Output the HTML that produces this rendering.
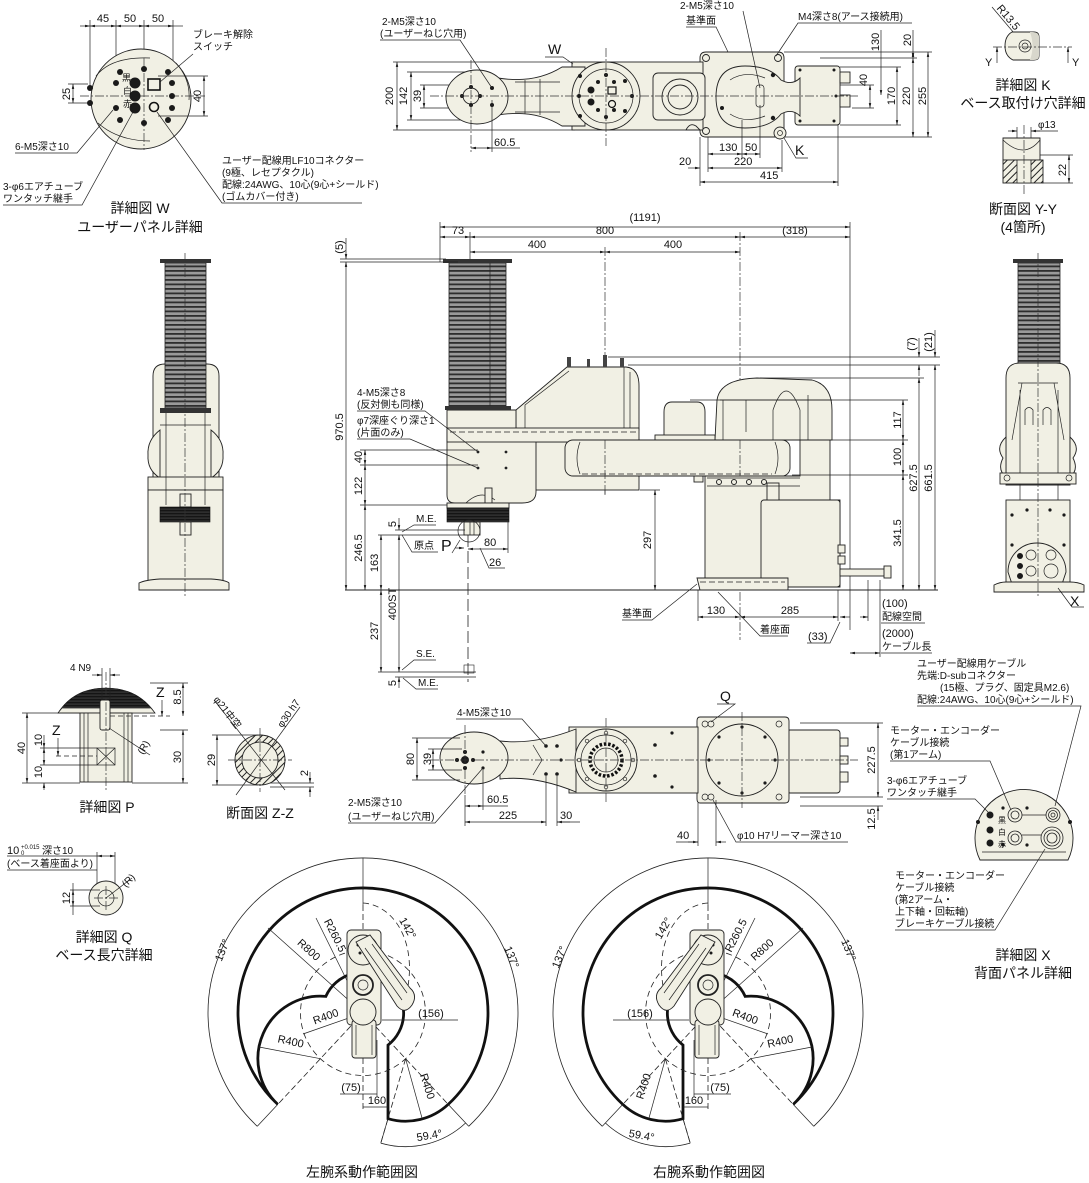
<!DOCTYPE html>
<html><head><meta charset="utf-8">
<style>
html,body{margin:0;padding:0;background:#fff;}
svg{display:block;}
text{font-family:"Liberation Sans","Noto Sans CJK JP",sans-serif;fill:#111;stroke:none;}
.s{font-size:10px}
.n{font-size:11px}
.c{font-size:14px}
.ln{fill:none;stroke:#222;stroke-width:0.7}
.d{fill:none;stroke:#222;stroke-width:0.7;marker-start:url(#a);marker-end:url(#a)}
.de{fill:none;stroke:#222;stroke-width:0.7;marker-end:url(#a)}
.cl{fill:none;stroke:#333;stroke-width:0.7;stroke-dasharray:9 2 2 2}
.ds{fill:none;stroke:#222;stroke-width:0.8;stroke-dasharray:6 3}
.b{fill:#f1f0e4;stroke:#222;stroke-width:0.9}
.k{fill:#1a1a1a;stroke:#111;stroke-width:0.6}
</style></head><body>
<svg width="1089" height="1183" viewBox="0 0 1089 1183" xmlns="http://www.w3.org/2000/svg">
<defs>
<marker id="a" viewBox="0 0 10 10" refX="10" refY="5" markerWidth="7" markerHeight="7" orient="auto-start-reverse"><path d="M0,2.5 L10,5 L0,7.5 z" fill="#111"/></marker>
<pattern id="bel" width="6" height="4.5" patternUnits="userSpaceOnUse"><rect width="6" height="4.5" fill="#9a9a9a"/><rect y="0" width="6" height="1.8" fill="#2e2e2e"/></pattern>
<pattern id="blk" width="6" height="3" patternUnits="userSpaceOnUse"><rect width="6" height="3" fill="#151515"/><rect y="1.8" width="6" height="0.5" fill="#666"/></pattern>
<pattern id="hat" width="5" height="5" patternUnits="userSpaceOnUse" patternTransform="rotate(45)"><rect width="5" height="5" fill="#f1f0e4"/><rect width="1" height="5" fill="#222"/></pattern>
</defs>

<!-- ============ DETAIL W ============ -->
<g>
<line class="ln" x1="90" y1="20" x2="90" y2="88"/>
<line class="ln" x1="116" y1="20" x2="116" y2="83"/>
<line class="ln" x1="144" y1="20" x2="144" y2="60"/>
<line class="ln" x1="173" y1="20" x2="173" y2="82"/>
<line class="d" x1="80" y1="26" x2="90" y2="26" style="marker-start:none"/>
<line class="d" x1="90" y1="26" x2="116" y2="26"/>
<line class="d" x1="116" y1="26" x2="144" y2="26"/>
<line class="d" x1="144" y1="26" x2="173" y2="26"/>
<line class="ln" x1="173" y1="26" x2="183" y2="26"/>
<text class="n" x="103" y="22" text-anchor="middle">45</text>
<text class="n" x="130" y="22" text-anchor="middle">50</text>
<text class="n" x="158" y="22" text-anchor="middle">50</text>
<circle class="b" cx="141" cy="99" r="50"/>
<path class="ln" d="M96,76 C106,63 124,57 150,58 M98,123 C110,134 128,141 150,141 M176,63 C186,74 190,86 189,100"/>
<line class="cl" x1="80" y1="96" x2="205" y2="96"/>
<line class="cl" x1="144" y1="58" x2="144" y2="150"/>
<g fill="#1a1a1a">
<circle cx="90" cy="88" r="3"/><circle cx="90" cy="103" r="3"/>
<circle cx="116" cy="83" r="3"/><circle cx="116" cy="108" r="3"/>
<circle cx="120" cy="72" r="3"/><circle cx="120" cy="120" r="3"/>
<circle cx="144" cy="69" r="3"/><circle cx="144" cy="123" r="3"/>
<circle cx="168" cy="72" r="3"/><circle cx="172" cy="83" r="3"/>
<circle cx="172" cy="96" r="3"/><circle cx="172" cy="108" r="3"/>
<circle cx="168" cy="120" r="3"/>
<circle cx="135" cy="83" r="5.5"/><circle cx="135" cy="96" r="5.5"/><circle cx="135" cy="108" r="5.5"/>
</g>
<rect x="148" y="79" width="12" height="11" fill="none" stroke="#111" stroke-width="1.6"/>
<circle cx="154" cy="107" r="4.5" fill="none" stroke="#111" stroke-width="1.6"/>
<text x="122" y="81" style="font-size:9px">黒</text>
<text x="123" y="94" style="font-size:9px">白</text>
<text x="123" y="107" style="font-size:9px">赤</text>
<line class="ln" x1="68" y1="84" x2="88" y2="84"/><line class="ln" x1="68" y1="103" x2="88" y2="103"/>
<line class="d" x1="73" y1="84" x2="73" y2="103"/>
<text class="n" transform="translate(66,94) rotate(-90)" x="0" y="4" text-anchor="middle">25</text>
<line class="ln" x1="158" y1="76" x2="208" y2="76"/><line class="ln" x1="158" y1="116" x2="208" y2="116"/>
<line class="d" x1="204" y1="76" x2="204" y2="116"/>
<text class="n" transform="translate(197,96) rotate(-90)" x="0" y="4" text-anchor="middle">40</text>
<text class="s" x="193" y="38">ブレーキ解除</text>
<text class="s" x="193" y="50">スイッチ</text>
<line class="ln" x1="193" y1="54" x2="160" y2="82"/>
<text class="s" x="15" y="150">6-M5深さ10</text>
<polyline class="ln" points="15,153 77,153 113,110"/>
<text class="s" x="3" y="190">3-φ6エアチューブ</text>
<text class="s" x="3" y="202">ワンタッチ継手</text>
<polyline class="ln" points="3,205 82,205 133,112"/>
<text class="s" x="222" y="164">ユーザー配線用LF10コネクター</text>
<text class="s" x="222" y="176">(9極、レセプタクル)</text>
<text class="s" x="222" y="188">配線:24AWG、10心(9心+シールド)</text>
<text class="s" x="222" y="200">(ゴムカバー付き)</text>
<polyline class="ln" points="362,203 222,203 157,112"/>
<text class="c" x="140" y="213" text-anchor="middle">詳細図 W</text>
<text class="c" x="140" y="232" text-anchor="middle">ユーザーパネル詳細</text>
</g>

<!-- ============ TOP VIEW ============ -->
<g>
<line class="ln" x1="393" y1="62" x2="575" y2="62"/>
<line class="ln" x1="393" y1="130" x2="575" y2="130"/>
<line class="ln" x1="407" y1="72" x2="470" y2="72"/>
<line class="ln" x1="407" y1="120" x2="470" y2="120"/>
<line class="ln" x1="420" y1="85" x2="470" y2="85"/>
<line class="ln" x1="420" y1="108" x2="470" y2="108"/>
<line class="d" x1="397" y1="62" x2="397" y2="130"/>
<line class="d" x1="411" y1="72" x2="411" y2="120"/>
<line class="d" x1="424" y1="85" x2="424" y2="108"/>
<text class="n" transform="translate(389,96) rotate(-90)" x="0" y="4" text-anchor="middle">200</text>
<text class="n" transform="translate(403,96) rotate(-90)" x="0" y="4" text-anchor="middle">142</text>
<text class="n" transform="translate(417,96) rotate(-90)" x="0" y="4" text-anchor="middle">39</text>
<path class="b" d="M700,58 Q700,52 706,52 H778 Q784,52 784,58 V131 Q784,137 778,137 H706 Q700,137 700,131 Z"/>
<rect class="b" x="572" y="62" width="131" height="68"/>
<path class="b" d="M686,130 Q690,122 696,126 L700,130 Z"/>
<rect class="b" x="653" y="73" width="52" height="47" rx="5"/>
<circle class="b" cx="680" cy="97" r="18"/><circle class="b" cx="680" cy="97" r="12"/>
<path class="b" d="M498,78 Q535,84 562,67 L585,67 L585,126 L562,126 Q535,109 498,115 Z"/>
<path class="ln" d="M515,82 H560 M515,112 H560 M525,80 V114 M540,79 V115"/>
<ellipse class="b" cx="477" cy="97" rx="31" ry="27"/>
<circle class="b" cx="471" cy="96" r="8"/>
<g fill="#1a1a1a"><circle cx="471" cy="87" r="2"/><circle cx="471" cy="105" r="2"/><circle cx="462" cy="96" r="2"/><circle cx="480" cy="96" r="2"/><circle cx="492" cy="88" r="2"/><circle cx="492" cy="105" r="2"/></g>
<circle class="b" cx="606" cy="96" r="34"/>
<circle class="ln" cx="606" cy="96" r="27"/>
<g fill="#1a1a1a"><circle cx="591" cy="90" r="3.5"/><circle cx="591" cy="102" r="3.5"/><circle cx="579" cy="96" r="2"/><circle cx="606" cy="75" r="2"/><circle cx="606" cy="117" r="2"/><circle cx="625" cy="81" r="2"/><circle cx="625" cy="111" r="2"/><circle cx="598" cy="82" r="2"/><circle cx="614" cy="82" r="2"/><circle cx="598" cy="110" r="2"/><circle cx="614" cy="110" r="2"/><circle cx="632" cy="96" r="2"/><circle cx="580" cy="76" r="2"/><circle cx="580" cy="116" r="2"/></g>
<rect x="608" y="87" width="8" height="7" fill="none" stroke="#111" stroke-width="1.2"/>
<circle cx="612" cy="104" r="3.5" fill="none" stroke="#111" stroke-width="1.2"/>
<rect class="b" x="795" y="66" width="45" height="59" rx="3"/>
<path class="b" d="M745,66 Q770,66 781,80 Q792,86 800,78 L800,116 Q792,108 781,114 Q770,128 745,128 Q716,128 716,97 Q716,66 745,66 Z"/>
<path class="ln" d="M730,80 Q745,70 765,78 M730,114 Q745,124 765,116"/>
<rect x="756" y="85" width="8" height="22" rx="3" class="ln"/>
<g fill="#1a1a1a"><circle cx="773" cy="75" r="2.2"/><circle cx="773" cy="118" r="2.2"/><circle cx="722" cy="108" r="2"/><circle cx="800" cy="70" r="1.5"/><circle cx="834" cy="70" r="1.5"/><circle cx="800" cy="121" r="1.5"/><circle cx="834" cy="121" r="1.5"/><circle cx="836" cy="96" r="1.5"/></g>
<rect x="840" y="72" width="10" height="11" class="b"/><rect x="840" y="95" width="10" height="12" class="b"/>
<circle class="b" cx="706" cy="58" r="3.5"/><circle class="b" cx="778" cy="58" r="3.5"/>
<circle class="b" cx="706" cy="131" r="3.5"/><circle class="b" cx="780" cy="133" r="6"/>
<circle class="ln" cx="780" cy="133" r="2.5"/>
<line class="cl" x1="430" y1="96" x2="858" y2="96"/>
<line class="cl" x1="606" y1="48" x2="606" y2="146"/>
<line class="cl" x1="471" y1="60" x2="471" y2="152"/>
<text class="s" x="382" y="25">2-M5深さ10</text>
<text class="s" x="380" y="37">(ユーザーねじ穴用)</text>
<polyline class="ln" points="380,40 460,40 492,88"/>
<text x="548" y="54" style="font-size:14px">W</text>
<polyline class="ln" points="545,57 563,57 573,64"/>
<line class="ln" x1="492" y1="100" x2="492" y2="152"/>
<line class="d" x1="471" y1="148" x2="492" y2="148"/>
<line class="ln" x1="492" y1="148" x2="520" y2="148"/>
<text class="n" x="494" y="146">60.5</text>
<text class="s" x="680" y="9">2-M5深さ10</text>
<text class="s" x="686" y="24">基準面</text>
<polyline class="ln" points="686,27 716,27 728,52"/>
<polyline class="ln" points="743,11 760,88"/>
<text class="s" x="798" y="20">M4深さ8(アース接続用)</text>
<polyline class="ln" points="912,23 798,23 776,56"/>
<line class="ln" x1="784" y1="52" x2="932" y2="52"/>
<line class="ln" x1="820" y1="58" x2="917" y2="58"/>
<line class="ln" x1="840" y1="67" x2="901" y2="67"/>
<line class="ln" x1="852" y1="108" x2="874" y2="108"/>
<line class="ln" x1="840" y1="85" x2="874" y2="85"/>
<line class="ln" x1="840" y1="125" x2="901" y2="125"/>
<line class="ln" x1="784" y1="137" x2="932" y2="137"/>
<line class="d" x1="881" y1="52" x2="881" y2="95" style="marker-start:none"/>
<line class="ln" x1="881" y1="30" x2="881" y2="52"/>
<line class="ln" x1="913" y1="30" x2="913" y2="52"/>
<line class="d" x1="913" y1="52" x2="913" y2="58"/>
<line class="d" x1="870" y1="85" x2="870" y2="108"/>
<line class="d" x1="897" y1="67" x2="897" y2="125"/>
<line class="d" x1="913" y1="58" x2="913" y2="137"/>
<line class="d" x1="928" y1="52" x2="928" y2="137"/>
<text class="n" transform="translate(875,42) rotate(-90)" x="0" y="4" text-anchor="middle">130</text>
<text class="n" transform="translate(907,40) rotate(-90)" x="0" y="4" text-anchor="middle">20</text>
<text class="n" transform="translate(863,80) rotate(-90)" x="0" y="4" text-anchor="middle">40</text>
<text class="n" transform="translate(891,96) rotate(-90)" x="0" y="4" text-anchor="middle">170</text>
<text class="n" transform="translate(906,96) rotate(-90)" x="0" y="4" text-anchor="middle">220</text>
<text class="n" transform="translate(922,96) rotate(-90)" x="0" y="4" text-anchor="middle">255</text>
<line class="ln" x1="700" y1="137" x2="700" y2="186"/>
<line class="ln" x1="708" y1="137" x2="708" y2="172"/>
<line class="ln" x1="742" y1="120" x2="742" y2="158"/>
<line class="ln" x1="760" y1="105" x2="760" y2="158"/>
<line class="ln" x1="782" y1="140" x2="782" y2="172"/>
<line class="ln" x1="838" y1="125" x2="838" y2="186"/>
<line class="d" x1="708" y1="154" x2="742" y2="154"/>
<line class="d" x1="742" y1="154" x2="760" y2="154"/>
<line class="d" x1="708" y1="168" x2="782" y2="168"/>
<line class="de" x1="688" y1="168" x2="700" y2="168"/>
<line class="d" x1="700" y1="182" x2="838" y2="182"/>
<text class="n" x="719" y="151">130</text>
<text class="n" x="745" y="151">50</text>
<text class="n" x="734" y="165">220</text>
<text class="n" x="679" y="165">20</text>
<text class="n" x="760" y="179">415</text>
<text x="795" y="155" style="font-size:14px">K</text>
<polyline class="ln" points="784,138 796,158 808,158"/>
</g>

<!-- ============ DETAIL K / SECTION Y-Y ============ -->
<g>
<line class="ln" x1="992" y1="7" x2="1025" y2="46"/>
<text class="n" transform="translate(1004,21) rotate(50)" x="0" y="-2" text-anchor="middle">R13.5</text>
<path class="b" d="M1012,32 H1034 Q1039,32 1039,37 V56 Q1039,60 1034,60 H1013 Q1005,56 1005,46 Q1005,36 1012,32 Z"/>
<path d="M1032,32 Q1039,32 1039,37 V56 Q1039,60 1034,60 H1030 Q1035,46 1030,32 Z" fill="#d8d7cc" stroke="none"/>
<circle class="ln" cx="1025" cy="46" r="6"/><circle class="ln" cx="1025" cy="46" r="3"/>
<line class="cl" x1="993" y1="47" x2="1072" y2="47"/>
<line class="de" x1="997" y1="63" x2="997" y2="47"/>
<line class="de" x1="1068" y1="63" x2="1068" y2="47"/>
<text class="n" x="985" y="66">Y</text><text class="n" x="1072" y="66">Y</text>
<text class="c" x="1023" y="90" text-anchor="middle">詳細図 K</text>
<text class="c" x="1023" y="108" text-anchor="middle">ベース取付け穴詳細</text>
<text class="s" x="1038" y="128">φ13</text>
<line class="ln" x1="1017" y1="127" x2="1017" y2="145"/><line class="ln" x1="1031" y1="127" x2="1031" y2="145"/>
<line class="de" x1="1008" y1="131" x2="1017" y2="131"/>
<line class="de" x1="1040" y1="131" x2="1031" y2="131"/>
<line class="ln" x1="1031" y1="131" x2="1058" y2="131"/>
<path class="b" d="M1003,138 H1040 V160 H1003 Z"/>
<path class="ln" d="M1003,140 Q1024,160 1040,140"/>
<rect x="1003" y="160" width="40" height="23" fill="url(#hat)" stroke="#222" stroke-width="0.9"/>
<rect x="1017" y="160" width="14" height="23" fill="#f1f0e4" stroke="#222" stroke-width="0.8"/>
<line class="cl" x1="1024" y1="125" x2="1024" y2="196"/>
<line class="ln" x1="1040" y1="155" x2="1073" y2="155"/><line class="ln" x1="1043" y1="183" x2="1073" y2="183"/>
<line class="d" x1="1069" y1="155" x2="1069" y2="183"/>
<text class="n" transform="translate(1062,170) rotate(-90)" x="0" y="4" text-anchor="middle">22</text>
<text class="c" x="1023" y="214" text-anchor="middle">断面図 Y-Y</text>
<text class="c" x="1023" y="232" text-anchor="middle">(4箇所)</text>
</g>

<!-- ============ LEFT SIDE (FRONT) VIEW ============ -->
<g>
<path class="b" d="M153,485 V376 Q153,364 165,364 H207 Q219,364 219,376 V485 Z"/>
<rect x="165" y="263" width="41" height="145" fill="url(#bel)" stroke="#222" stroke-width="0.8"/>
<rect x="160" y="259" width="51" height="4" fill="#333"/>
<rect x="160" y="408" width="51" height="5" fill="#333"/>
<path class="b" d="M160,430 Q147,440 148,455 Q147,470 160,478 Z M211,430 Q224,440 223,455 Q224,470 211,478 Z"/>
<rect class="b" x="148" y="477" width="75" height="13"/>
<rect class="b" x="148" y="490" width="75" height="92"/>
<path class="ln" d="M166,413 V505 M205,413 V505 M160,425 H211"/>
<rect x="180" y="494" width="11" height="13" class="b"/>
<rect x="160" y="507" width="50" height="15" fill="url(#blk)" stroke="#111" stroke-width="0.6"/>
<rect x="180" y="522" width="11" height="13" class="b"/>
<path class="b" d="M139,590 V583 Q145,580 160,579 H211 Q226,580 229,583 V590 Z"/>
<line class="cl" x1="185" y1="253" x2="185" y2="598"/>
</g>

<!-- ============ RIGHT SIDE (REAR) VIEW ============ -->
<g>
<path class="b" d="M1006,485 V378 Q1006,363 1020,363 H1056 Q1070,363 1070,378 V485 Z"/>
<path class="ln" d="M1018,383 H1058 M1012,440 L1022,383 M1064,440 L1054,383 M1020,390 V500 M1058,390 V500"/>
<rect x="1018" y="263" width="42" height="100" fill="url(#bel)" stroke="#222" stroke-width="0.8"/>
<rect x="1013" y="259" width="50" height="4" fill="#333"/>
<path class="ln" d="M1025,425 V410 Q1029,405 1033,410 V425 M1043,425 V410 Q1047,405 1051,410 V425"/>
<path class="b" d="M1006,437 Q995,447 1003,458 Q997,470 1006,477 Z M1070,437 Q1081,447 1073,458 Q1079,470 1070,477 Z"/>
<rect class="b" x="1000" y="473" width="76" height="11"/>
<circle class="ln" cx="1007" cy="478" r="3"/><circle class="ln" cx="1069" cy="478" r="3"/>
<rect class="b" x="1006" y="500" width="64" height="83"/>
<path class="b" d="M1008,572 A29,29 0 1,1 1066,572 L1060,590 H1014 Z"/>
<g fill="#1a1a1a"><circle cx="1020" cy="556" r="3"/><circle cx="1020" cy="566" r="3"/><circle cx="1020" cy="576" r="3"/><circle cx="1012" cy="515" r="1.6"/><circle cx="1064" cy="515" r="1.6"/><circle cx="1027" cy="510" r="1.6"/><circle cx="1050" cy="510" r="1.6"/><circle cx="1012" cy="545" r="1.6"/><circle cx="1064" cy="545" r="1.6"/></g>
<circle class="ln" cx="1031" cy="555" r="5"/><circle class="ln" cx="1051" cy="555" r="5"/><circle class="ln" cx="1031" cy="571" r="5"/><circle class="ln" cx="1051" cy="571" r="7"/>
<path class="b" d="M994,592 V585 Q1000,582 1006,582 H1070 Q1078,582 1084,585 V592 Z"/>
<line class="cl" x1="1038" y1="253" x2="1038" y2="598"/>
<polyline class="ln" points="1058,588 1072,607 1084,607"/>
<text x="1070" y="606" style="font-size:14px">X</text>
</g>

<!-- ============ MAIN SIDE VIEW ============ -->
<g>
<line class="ln" x1="440" y1="222" x2="440" y2="262"/>
<line class="ln" x1="850" y1="222" x2="850" y2="630"/>
<line class="ln" x1="470" y1="232" x2="470" y2="262"/>
<line class="cl" x1="470" y1="262" x2="470" y2="535"/>
<line class="cl" x1="605" y1="247" x2="605" y2="495"/>
<line class="cl" x1="740" y1="232" x2="740" y2="640"/>
<line class="d" x1="440" y1="227" x2="850" y2="227"/>
<line class="d" x1="440" y1="237" x2="470" y2="237"/>
<line class="d" x1="470" y1="237" x2="740" y2="237"/>
<line class="d" x1="740" y1="237" x2="850" y2="237"/>
<line class="d" x1="470" y1="252" x2="605" y2="252"/>
<line class="d" x1="605" y1="252" x2="740" y2="252"/>
<text class="n" x="645" y="221" text-anchor="middle">(1191)</text>
<text class="n" x="458" y="234" text-anchor="middle">73</text>
<text class="n" x="605" y="234" text-anchor="middle">800</text>
<text class="n" x="795" y="234" text-anchor="middle">(318)</text>
<text class="n" x="537" y="248" text-anchor="middle">400</text>
<text class="n" x="673" y="248" text-anchor="middle">400</text>
<rect class="b" x="535" y="442" width="104" height="48"/>
<path class="b" d="M516,430 V410 L567,367 H626 Q639,368 639,386 V430 Z"/>
<path class="ln" d="M525,430 V405 L569,371 M624,367 V430 M630,372 V430"/>
<g fill="#444"><rect x="567" y="357" width="4" height="10"/><rect x="587" y="359" width="3" height="8"/><rect x="603" y="355" width="4" height="12"/><rect x="620" y="358" width="4" height="9"/></g>
<path class="b" d="M447,410 H516 V430 H536 V492 Q536,503 522,503 H455 Q447,503 447,495 Z"/>
<path class="ln" d="M464,505 Q480,488 495,500"/>
<rect x="485" y="488" width="7" height="15" class="b"/>
<rect class="b" x="447" y="428" width="192" height="14"/>
<line class="ds" x1="450" y1="432" x2="636" y2="432"/>
<rect x="449" y="263" width="57" height="147" fill="url(#bel)" stroke="#222" stroke-width="0.8"/>
<rect x="443" y="259" width="69" height="4" fill="#333"/>
<line class="ln" x1="490" y1="263" x2="490" y2="410"/>
<rect x="445" y="406" width="66" height="4" fill="#333"/>
<rect x="447" y="503" width="62" height="5" class="b"/>
<rect x="447" y="508" width="62" height="14" fill="url(#blk)" stroke="#111" stroke-width="0.6"/>
<rect x="464" y="522" width="16" height="13" class="b"/>
<line class="ln" x1="470" y1="522" x2="470" y2="535"/><line class="ln" x1="474" y1="522" x2="474" y2="535"/>
<circle class="ln" cx="469" cy="531" r="11"/>
<path class="b" d="M705,476 H800 V440 H830 V500 H840 V587 H705 Z"/>
<path class="b" d="M715,440 L717,400 Q720,379 757,378 L812,380 Q832,385 832,410 V440 Z"/>
<path class="ln" d="M773,440 V410 Q786,372 800,410 V440 M723,440 V400 M746,400 V432 M808,395 V440 M720,400 H832"/>
<rect class="b" x="761" y="500" width="79" height="87" rx="3"/>
<rect class="b" x="767" y="483" width="12" height="17"/>
<path class="ln" d="M707,478 H800 M707,486 H800"/>
<g fill="none" stroke="#222" stroke-width="1"><circle cx="719" cy="482" r="2.5"/><circle cx="734" cy="482" r="2.5"/><circle cx="749" cy="482" r="2.5"/><circle cx="764" cy="482" r="2.5"/></g>
<rect class="b" x="694" y="474" width="9" height="8"/>
<g class="b"><rect x="838" y="545" width="7" height="8"/><rect x="838" y="556" width="7" height="8"/></g>
<rect class="b" x="840" y="569" width="48" height="7"/><rect class="b" x="884" y="566" width="7" height="12"/>
<path class="b" d="M697,578 H788 V590 H700 Z"/>
<line class="ds" x1="700" y1="582" x2="785" y2="582"/>
<path class="b" d="M664,440 V412 Q664,402 672,402 H697 Q705,402 705,412 V440 Z"/>
<rect class="b" x="655" y="435" width="60" height="5"/>
<rect class="b" x="565" y="440" width="225" height="36" rx="8"/>
<path class="ln" d="M580,442 Q574,458 580,474 M775,442 Q781,458 775,474"/>
<line class="ds" x1="582" y1="474" x2="772" y2="474"/>
<line class="cl" x1="605" y1="440" x2="605" y2="495"/>
<line class="cl" x1="740" y1="440" x2="740" y2="476"/>
<line x1="345" y1="590" x2="938" y2="590" stroke="#222" stroke-width="0.9"/>
<line class="ln" x1="340" y1="262" x2="458" y2="262"/>
<line class="ln" x1="340" y1="259" x2="446" y2="259"/>
<line class="d" x1="346" y1="262" x2="346" y2="590"/>
<line class="de" x1="346" y1="238" x2="346" y2="259"/>
<text class="n" transform="translate(339,247) rotate(-90)" x="0" y="4" text-anchor="middle">(5)</text>
<text class="n" transform="translate(339,427) rotate(-90)" x="0" y="4" text-anchor="middle">970.5</text>
<line class="ln" x1="360" y1="450" x2="478" y2="450"/>
<line class="ln" x1="360" y1="465" x2="478" y2="465"/>
<line class="ln" x1="360" y1="505" x2="447" y2="505"/>
<line class="d" x1="365" y1="450" x2="365" y2="465"/>
<line class="d" x1="365" y1="465" x2="365" y2="505"/>
<line class="d" x1="365" y1="505" x2="365" y2="590"/>
<text class="n" transform="translate(358,457) rotate(-90)" x="0" y="4" text-anchor="middle">40</text>
<text class="n" transform="translate(358,486) rotate(-90)" x="0" y="4" text-anchor="middle">122</text>
<text class="n" transform="translate(358,548) rotate(-90)" x="0" y="4" text-anchor="middle">246.5</text>
<line class="ln" x1="378" y1="535" x2="465" y2="535"/>
<line class="ln" x1="378" y1="672" x2="476" y2="672"/>
<line class="d" x1="381" y1="535" x2="381" y2="590"/>
<line class="d" x1="381" y1="590" x2="381" y2="672"/>
<line class="d" x1="399" y1="535" x2="399" y2="672"/>
<line class="de" x1="399" y1="518" x2="399" y2="530"/>
<line class="de" x1="399" y1="688" x2="399" y2="677"/>
<line class="ln" x1="395" y1="677" x2="476" y2="677"/>
<line class="ln" x1="395" y1="530" x2="465" y2="530"/>
<text class="n" transform="translate(374,563) rotate(-90)" x="0" y="4" text-anchor="middle">163</text>
<text class="n" transform="translate(374,631) rotate(-90)" x="0" y="4" text-anchor="middle">237</text>
<text class="n" transform="translate(392,604) rotate(-90)" x="0" y="4" text-anchor="middle">400ST</text>
<text class="n" transform="translate(392,524) rotate(-90)" x="0" y="4" text-anchor="middle">5</text>
<text class="n" transform="translate(392,683) rotate(-90)" x="0" y="4" text-anchor="middle">5</text>
<line x1="468" y1="535" x2="468" y2="682" stroke="#222" stroke-width="0.8" stroke-dasharray="12 4"/>
<rect x="464" y="665" width="10" height="8" fill="none" stroke="#222" stroke-width="0.6"/>
<text class="s" x="416" y="522">M.E.</text>
<polyline class="ln" points="436,525 414,525 402,532"/>
<text class="s" x="414" y="549">原点</text>
<polyline class="ln" points="402,535 412,552 438,552"/>
<text x="441" y="551" style="font-size:16px">P</text>
<polyline class="ln" points="452,553 460,540"/>
<line class="ln" x1="508" y1="522" x2="508" y2="553"/>
<line class="d" x1="468" y1="549" x2="508" y2="549"/>
<text class="n" x="484" y="546">80</text>
<line class="de" x1="455" y1="548" x2="464" y2="548"/>
<polyline class="ln" points="480,548 489,568 505,568"/>
<text class="n" x="489" y="566">26</text>
<text class="s" x="416" y="657">S.E.</text>
<polyline class="ln" points="436,660 414,660 402,670"/>
<text class="s" x="418" y="686">M.E.</text>
<polyline class="ln" points="438,689 416,689 403,678"/>
<text class="s" x="357" y="396">4-M5深さ8</text>
<text class="s" x="357" y="408">(反対側も同様)</text>
<polyline class="ln" points="357,411 425,411 478,452"/>
<text class="s" x="357" y="424">φ7深座ぐり深さ1</text>
<text class="s" x="357" y="436">(片面のみ)</text>
<polyline class="ln" points="357,439 410,439 478,468"/>
<g fill="#222"><circle cx="478" cy="452" r="1.4"/><circle cx="478" cy="468" r="1.4"/><circle cx="506" cy="452" r="1.4"/><circle cx="506" cy="468" r="1.4"/></g>
<line class="ln" x1="640" y1="490" x2="660" y2="490"/>
<line class="d" x1="655" y1="490" x2="655" y2="590"/>
<text class="n" transform="translate(647,540) rotate(-90)" x="0" y="4" text-anchor="middle">297</text>
<line class="ln" x1="608" y1="357" x2="940" y2="357"/>
<line class="ln" x1="628" y1="365" x2="940" y2="365"/>
<line class="ln" x1="760" y1="378" x2="924" y2="378"/>
<line class="ln" x1="690" y1="400" x2="908" y2="400"/>
<line class="ln" x1="792" y1="440" x2="908" y2="440"/>
<line class="ln" x1="792" y1="475" x2="908" y2="475"/>
<line class="d" x1="903" y1="400" x2="903" y2="440"/>
<line class="d" x1="903" y1="440" x2="903" y2="475"/>
<line class="d" x1="903" y1="475" x2="903" y2="590"/>
<line class="d" x1="919" y1="378" x2="919" y2="590"/>
<line class="d" x1="935" y1="365" x2="935" y2="590"/>
<line class="de" x1="919" y1="338" x2="919" y2="357"/>
<line class="de" x1="919" y1="376" x2="919" y2="365"/>
<line class="de" x1="935" y1="330" x2="935" y2="357"/>
<text class="n" transform="translate(911,344) rotate(-90)" x="0" y="4" text-anchor="middle">(7)</text>
<text class="n" transform="translate(928,342) rotate(-90)" x="0" y="4" text-anchor="middle">(21)</text>
<text class="n" transform="translate(897,420) rotate(-90)" x="0" y="4" text-anchor="middle">117</text>
<text class="n" transform="translate(897,457) rotate(-90)" x="0" y="4" text-anchor="middle">100</text>
<text class="n" transform="translate(913,478) rotate(-90)" x="0" y="4" text-anchor="middle">627.5</text>
<text class="n" transform="translate(928,478) rotate(-90)" x="0" y="4" text-anchor="middle">661.5</text>
<text class="n" transform="translate(897,533) rotate(-90)" x="0" y="4" text-anchor="middle">341.5</text>
<line class="ln" x1="698" y1="590" x2="698" y2="621"/>
<line class="ln" x1="838" y1="590" x2="838" y2="621"/>
<line class="ln" x1="868" y1="580" x2="868" y2="621"/>
<line class="ln" x1="880" y1="580" x2="880" y2="657"/>
<line class="d" x1="698" y1="617" x2="740" y2="617"/>
<line class="d" x1="740" y1="617" x2="838" y2="617"/>
<line class="de" x1="850" y1="617" x2="840" y2="617"/>
<line class="de" x1="860" y1="617" x2="868" y2="617"/>
<line class="d" x1="850" y1="653" x2="880" y2="653"/>
<text class="n" x="716" y="614" text-anchor="middle">130</text>
<text class="n" x="790" y="614" text-anchor="middle">285</text>
<text class="s" x="622" y="617">基準面</text>
<polyline class="ln" points="622,620 652,620 697,584"/>
<text class="s" x="760" y="633">着座面</text>
<polyline class="ln" points="788,636 760,636 718,592 M740,622 760,636 M760,636 776,592"/>
<text class="n" x="808" y="640">(33)</text>
<polyline class="ln" points="807,643 830,643 840,622"/>
<text class="n" x="882" y="607">(100)</text>
<text class="s" x="882" y="620">配線空間</text>
<line class="ln" x1="881" y1="623" x2="925" y2="623"/>
<text class="n" x="882" y="637">(2000)</text>
<text class="s" x="882" y="650">ケーブル長</text>
<line class="ln" x1="881" y1="653" x2="932" y2="653"/>
</g>

<!-- ============ DETAIL P ============ -->
<g>
<path d="M58,713 C70,694 88,688 106,688 C124,688 142,694 155,713 Z" fill="url(#blk)" stroke="#111" stroke-width="0.6"/>
<path d="M62,708 H151 L155,713 H58 Z" fill="#f1f0e4" stroke="#222" stroke-width="0.7"/>
<rect class="b" x="80" y="713" width="52" height="69"/>
<path class="ln" d="M84,713 V782 M88,713 V782 M124,713 V782 M128,713 V782"/>
<rect class="b" x="100" y="700" width="10" height="30" rx="2"/>
<rect class="ln" x="97" y="748" width="18" height="17"/>
<path class="ln" d="M97,748 L115,765 M115,748 L97,765"/>
<line class="cl" x1="106" y1="672" x2="106" y2="790"/>
<line class="ln" x1="102" y1="668" x2="102" y2="700"/><line class="ln" x1="110" y1="668" x2="110" y2="700"/>
<line class="de" x1="92" y1="675" x2="102" y2="675"/><line class="de" x1="120" y1="675" x2="110" y2="675"/>
<text class="s" x="70" y="671">4 N9</text>
<line x1="110" y1="716" x2="170" y2="716" stroke="#222" stroke-width="0.8" stroke-dasharray="5 3"/>
<line class="de" x1="162" y1="700" x2="162" y2="716"/>
<text class="c" x="156" y="697">Z</text>
<line x1="56" y1="756" x2="97" y2="756" stroke="#222" stroke-width="0.8" stroke-dasharray="5 3"/>
<line class="de" x1="58" y1="738" x2="58" y2="756"/>
<text class="c" x="52" y="735">Z</text>
<line class="ln" x1="150" y1="683" x2="188" y2="683"/>
<line class="ln" x1="160" y1="730" x2="188" y2="730"/>
<line class="ln" x1="132" y1="783" x2="188" y2="783"/>
<line class="d" x1="183" y1="683" x2="183" y2="716"/>
<line class="d" x1="183" y1="730" x2="183" y2="783"/>
<text class="n" transform="translate(177,697) rotate(-90)" x="0" y="4" text-anchor="middle">8.5</text>
<text class="n" transform="translate(177,757) rotate(-90)" x="0" y="4" text-anchor="middle">30</text>
<line class="ln" x1="22" y1="713" x2="80" y2="713"/>
<line class="ln" x1="22" y1="783" x2="80" y2="783"/>
<line class="ln" x1="40" y1="748" x2="97" y2="748"/>
<line class="ln" x1="40" y1="765" x2="97" y2="765"/>
<line class="d" x1="27" y1="713" x2="27" y2="783"/>
<line class="de" x1="44" y1="735" x2="44" y2="748"/>
<line class="d" x1="44" y1="748" x2="44" y2="765"/>
<line class="de" x1="44" y1="790" x2="44" y2="783"/>
<text class="n" transform="translate(21,748) rotate(-90)" x="0" y="4" text-anchor="middle">40</text>
<text class="n" transform="translate(38,740) rotate(-90)" x="0" y="4" text-anchor="middle">10</text>
<text class="n" transform="translate(38,772) rotate(-90)" x="0" y="4" text-anchor="middle">10</text>
<line class="ln" x1="109" y1="728" x2="150" y2="755"/>
<text class="s" transform="translate(143,747) rotate(-60)" x="0" y="4" text-anchor="middle">(R)</text>
<text class="c" x="107" y="812" text-anchor="middle">詳細図 P</text>
</g>

<!-- ============ SECTION Z-Z ============ -->
<g>
<circle cx="260" cy="760" r="25" fill="url(#hat)" stroke="#222" stroke-width="0.9"/>
<circle class="b" cx="260" cy="760" r="18"/>
<line class="cl" x1="228" y1="760" x2="292" y2="760"/>
<line class="cl" x1="260" y1="728" x2="260" y2="792"/>
<line class="ln" x1="214" y1="700" x2="285" y2="790"/>
<line class="ln" x1="300" y1="707" x2="236" y2="795"/>
<text class="s" transform="translate(228,712) rotate(52)" x="0" y="4" text-anchor="middle">φ21中空</text>
<text class="s" transform="translate(288,713) rotate(-55)" x="0" y="4" text-anchor="middle">φ30 h7</text>
<line class="ln" x1="212" y1="735" x2="258" y2="735"/>
<line class="ln" x1="212" y1="785" x2="258" y2="785"/>
<line class="d" x1="217" y1="735" x2="217" y2="785"/>
<text class="n" transform="translate(211,760) rotate(-90)" x="0" y="4" text-anchor="middle">29</text>
<line class="ln" x1="270" y1="783" x2="314" y2="783"/>
<line class="ln" x1="270" y1="787" x2="314" y2="787"/>
<line class="de" x1="310" y1="772" x2="310" y2="783"/>
<line class="de" x1="310" y1="797" x2="310" y2="787"/>
<text class="n" transform="translate(304,773) rotate(-90)" x="0" y="4" text-anchor="middle">2</text>
<text class="c" x="260" y="818" text-anchor="middle">断面図 Z-Z</text>
</g>

<!-- ============ DETAIL Q ============ -->
<g>
<text class="n" x="7" y="854">10</text>
<text x="21" y="849" style="font-size:6px">+0.015</text>
<text x="21" y="855" style="font-size:6px">0</text>
<text class="s" x="42" y="854">深さ10</text>
<text class="s" x="7" y="867">(ベース着座面より)</text>
<line class="ln" x1="7" y1="856" x2="97" y2="856"/>
<line class="ln" x1="7" y1="870" x2="97" y2="870"/>
<line class="ln" x1="97" y1="852" x2="97" y2="895"/>
<line class="ln" x1="115" y1="852" x2="115" y2="895"/>
<line class="d" x1="97" y1="856" x2="115" y2="856"/>
<circle class="b" cx="106" cy="898" r="17"/>
<circle class="ln" cx="106" cy="898" r="8"/>
<line class="cl" x1="94" y1="898" x2="118" y2="898"/>
<line class="cl" x1="106" y1="886" x2="106" y2="910"/>
<line class="ln" x1="70" y1="890" x2="100" y2="890"/>
<line class="ln" x1="70" y1="906" x2="100" y2="906"/>
<line class="d" x1="73" y1="890" x2="73" y2="906"/>
<line class="ln" x1="73" y1="883" x2="73" y2="915"/>
<text class="n" transform="translate(66,898) rotate(-90)" x="0" y="4" text-anchor="middle">12</text>
<line class="ln" x1="106" y1="898" x2="132" y2="878"/>
<text class="s" transform="translate(128,880) rotate(-45)" x="0" y="4" text-anchor="middle">(R)</text>
<text class="c" x="104" y="942" text-anchor="middle">詳細図 Q</text>
<text class="c" x="104" y="960" text-anchor="middle">ベース長穴詳細</text>
</g>

<!-- ============ BOTTOM TOP VIEW ============ -->
<g>
<rect class="b" x="787" y="730" width="53" height="63" rx="3"/>
<g class="b"><rect x="840" y="738" width="8" height="8"/><rect x="840" y="756" width="8" height="8"/><rect x="840" y="772" width="8" height="10"/></g>
<path class="b" d="M700,717 H785 Q789,717 789,721 V799 Q789,803 785,803 H700 Q697,803 697,799 V721 Q697,717 700,717 Z"/>
<circle class="b" cx="742" cy="760" r="36"/>
<g fill="#1a1a1a"><circle cx="742" cy="727" r="1.6"/><circle cx="742" cy="793" r="1.6"/><circle cx="709" cy="760" r="1.6"/><circle cx="775" cy="760" r="1.6"/><circle cx="719" cy="737" r="1.6"/><circle cx="765" cy="737" r="1.6"/><circle cx="719" cy="783" r="1.6"/><circle cx="765" cy="783" r="1.6"/></g>
<circle class="ln" cx="705" cy="724" r="3"/><circle class="ln" cx="711" cy="724" r="3"/><circle class="ln" cx="779" cy="724" r="3"/><circle class="ln" cx="705" cy="797" r="3"/><circle class="ln" cx="711" cy="797" r="3"/><circle class="ln" cx="779" cy="797" r="3"/>
<rect class="b" x="569" y="727" width="129" height="66"/>
<g fill="#1a1a1a"><circle cx="655" cy="745" r="1.8"/><circle cx="655" cy="776" r="1.8"/><circle cx="672" cy="733" r="1.6"/><circle cx="672" cy="787" r="1.6"/></g>
<path class="b" d="M500,741 Q535,745 576,729 V792 Q535,775 500,779 Z"/>
<path class="ln" d="M533,745 L542,760 L533,775"/>
<g fill="#1a1a1a"><circle cx="546" cy="746" r="1.8"/><circle cx="546" cy="774" r="1.8"/><circle cx="557" cy="746" r="1.8"/><circle cx="557" cy="774" r="1.8"/><circle cx="561" cy="760" r="1.6"/></g>
<ellipse class="b" cx="474" cy="758" rx="34" ry="26"/>
<circle cx="465" cy="760" r="4" fill="#1a1a1a"/>
<g fill="#1a1a1a"><circle cx="465" cy="752" r="2"/><circle cx="465" cy="768" r="2"/><circle cx="457" cy="760" r="2"/><circle cx="473" cy="760" r="2"/><circle cx="483" cy="752" r="1.6"/><circle cx="483" cy="768" r="1.6"/></g>
<circle class="b" cx="606" cy="760" r="31"/>
<circle class="ln" cx="606" cy="760" r="25"/>
<circle cx="606" cy="760" r="16" fill="none" stroke="#111" stroke-width="3.5" stroke-dasharray="2.5 1.8"/>
<circle class="ln" cx="606" cy="760" r="12"/>
<g fill="none" stroke="#222" stroke-width="0.7"><circle cx="606" cy="733" r="1.8"/><circle cx="606" cy="787" r="1.8"/><circle cx="579" cy="760" r="1.8"/><circle cx="633" cy="760" r="1.8"/><circle cx="587" cy="741" r="1.8"/><circle cx="625" cy="741" r="1.8"/><circle cx="587" cy="779" r="1.8"/><circle cx="625" cy="779" r="1.8"/></g>
<line class="cl" x1="430" y1="760" x2="858" y2="760"/>
<line class="cl" x1="465" y1="725" x2="465" y2="795"/>
<line class="cl" x1="606" y1="718" x2="606" y2="802"/>
<line class="cl" x1="742" y1="712" x2="742" y2="808"/>
<line class="ln" x1="412" y1="738" x2="460" y2="738"/>
<line class="ln" x1="412" y1="780" x2="460" y2="780"/>
<line class="ln" x1="428" y1="749" x2="462" y2="749"/>
<line class="ln" x1="428" y1="770" x2="462" y2="770"/>
<line class="d" x1="417" y1="738" x2="417" y2="780"/>
<line class="d" x1="433" y1="749" x2="433" y2="770"/>
<text class="n" transform="translate(410,759) rotate(-90)" x="0" y="4" text-anchor="middle">80</text>
<text class="n" transform="translate(427,759) rotate(-90)" x="0" y="4" text-anchor="middle">39</text>
<line class="ln" x1="465" y1="795" x2="465" y2="826"/>
<line class="ln" x1="483" y1="770" x2="483" y2="810"/>
<line class="ln" x1="546" y1="776" x2="546" y2="826"/>
<line class="ln" x1="557" y1="776" x2="557" y2="826"/>
<line class="d" x1="465" y1="806" x2="483" y2="806"/>
<line class="ln" x1="483" y1="806" x2="508" y2="806"/>
<text class="n" x="487" y="803">60.5</text>
<line class="d" x1="465" y1="822" x2="546" y2="822"/>
<text class="n" x="508" y="819" text-anchor="middle">225</text>
<line class="de" x1="570" y1="822" x2="557" y2="822"/>
<line class="ln" x1="557" y1="822" x2="580" y2="822"/>
<text class="n" x="560" y="819">30</text>
<text class="s" x="457" y="716">4-M5深さ10</text>
<polyline class="ln" points="456,719 522,719 546,746"/>
<text class="s" x="348" y="806">2-M5深さ10</text>
<text class="s" x="348" y="820">(ユーザーねじ穴用)</text>
<polyline class="ln" points="348,823 435,823 483,768"/>
<text x="720" y="701" style="font-size:14px">Q</text>
<polyline class="ln" points="717,704 735,704 711,722"/>
<line class="ln" x1="800" y1="723" x2="883" y2="723"/>
<line class="ln" x1="800" y1="797" x2="883" y2="797"/>
<line class="ln" x1="800" y1="806" x2="883" y2="806"/>
<line class="d" x1="878" y1="723" x2="878" y2="797"/>
<line class="de" x1="878" y1="820" x2="878" y2="806"/>
<text class="n" transform="translate(871,760) rotate(-90)" x="0" y="4" text-anchor="middle">227.5</text>
<text class="n" transform="translate(871,819) rotate(-90)" x="0" y="4" text-anchor="middle">12.5</text>
<line class="ln" x1="698" y1="803" x2="698" y2="846"/>
<line class="ln" x1="716" y1="800" x2="716" y2="846"/>
<line class="de" x1="688" y1="842" x2="698" y2="842"/>
<line class="de" x1="726" y1="842" x2="716" y2="842"/>
<line class="ln" x1="676" y1="842" x2="698" y2="842"/>
<text class="n" x="677" y="839">40</text>
<text class="s" x="737" y="839">φ10 H7リーマー深さ10</text>
<polyline class="ln" points="848,842 736,842 713,800"/>
</g>

<!-- ============ DETAIL X ============ -->
<g>
<path class="b" d="M980,860 A49,49 0 1,1 1068,860 Z"/>
<line class="ln" x1="982" y1="852" x2="1066" y2="852"/>
<g fill="#1a1a1a"><circle cx="990" cy="815" r="3.5"/><circle cx="990" cy="830" r="3.5"/><circle cx="990" cy="843" r="3.5"/><circle cx="978" cy="822" r="2"/><circle cx="1070" cy="822" r="2"/><circle cx="1003" cy="808" r="1.6"/><circle cx="1027" cy="808" r="1.6"/><circle cx="1003" cy="845" r="1.6"/><circle cx="1027" cy="845" r="1.6"/></g>
<g fill="none" stroke="#222" stroke-width="0.8">
<circle cx="1015" cy="815" r="7"/><circle cx="1015" cy="815" r="4"/>
<circle cx="1015" cy="838" r="7"/><circle cx="1015" cy="838" r="4"/>
<circle cx="1053" cy="815" r="7"/><circle cx="1053" cy="815" r="4.5"/><circle cx="1053" cy="815" r="2"/>
<circle cx="1052" cy="838" r="11"/><circle cx="1052" cy="838" r="8"/><circle cx="1052" cy="838" r="5"/>
<line x1="1022" y1="815" x2="1046" y2="815"/><line x1="1022" y1="835" x2="1041" y2="835"/>
</g>
<text x="998" y="823" style="font-size:8px">黒</text>
<text x="998" y="835" style="font-size:8px">白</text>
<text x="998" y="847" style="font-size:8px">赤</text>
<text class="s" x="917" y="667">ユーザー配線用ケーブル</text>
<text class="s" x="917" y="679">先端:D-subコネクター</text>
<text class="s" x="940" y="691">(15極、プラグ、固定具M2.6)</text>
<text class="s" x="917" y="703">配線:24AWG、10心(9心+シールド)</text>
<polyline class="ln" points="917,706 1081,706 1055,806"/>
<text class="s" x="890" y="734">モーター・エンコーダー</text>
<text class="s" x="890" y="746">ケーブル接続</text>
<text class="s" x="890" y="758">(第1アーム)</text>
<polyline class="ln" points="890,761 990,761 1011,810 M990,761 1013,833"/>
<text class="s" x="887" y="784">3-φ6エアチューブ</text>
<text class="s" x="887" y="796">ワンタッチ継手</text>
<polyline class="ln" points="887,799 975,799 988,812"/>
<text class="s" x="895" y="879">モーター・エンコーダー</text>
<text class="s" x="895" y="891">ケーブル接続</text>
<text class="s" x="895" y="903">(第2アーム・</text>
<text class="s" x="895" y="915">上下軸・回転軸)</text>
<text class="s" x="895" y="927">ブレーキケーブル接続</text>
<polyline class="ln" points="895,930 995,930 1045,849"/>
<text class="c" x="1023" y="960" text-anchor="middle">詳細図 X</text>
<text class="c" x="1023" y="978" text-anchor="middle">背面パネル詳細</text>
</g>

<!-- ============ WORK RANGE ============ -->
<g id="wr">
<path d="M257.3,1126.3 A155,155 0 1,1 468.7,1126.3" fill="none" stroke="#222" stroke-width="0.8"/>
<path d="M277.8,1104.4 A125,125 0 1,1 448.2,1104.4 A62.5,62.5 0 0,1 388,1118.7 L388,1045.1 A40.7,40.7 0 1,0 325.8,996.4 A62.5,62.5 0 0,0 277.8,1104.4 Z" fill="none" stroke="#111" stroke-width="2.8"/>
<circle cx="363" cy="1013" r="62.5" fill="none" stroke="#222" stroke-width="0.8" stroke-dasharray="6 4"/>
<line class="ln" x1="277.8" y1="1104.4" x2="257.3" y2="1126.3"/>
<line class="ln" x1="448.2" y1="1104.4" x2="468.7" y2="1126.3"/>
<line class="ds" x1="363" y1="1013" x2="277.8" y2="1104.4"/>
<line class="ds" x1="363" y1="1013" x2="448.2" y2="1104.4"/>
<line class="ds" x1="405.6" y1="1058.7" x2="380.8" y2="1143.1"/>
<line class="ln" x1="388" y1="1118.7" x2="380.8" y2="1143.1"/>
<path d="M380.8,1143.1 A88,88 0 0,0 465.6,1123" fill="none" stroke="#222" stroke-width="0.8"/>
<line class="ln" x1="363" y1="858" x2="363" y2="905"/>
<line class="ds" x1="363" y1="905" x2="363" y2="1110"/>
<path d="M363,903 C395,905 420,945 405,1000" fill="none" stroke="#222" stroke-width="0.8" stroke-dasharray="6 4"/>
<line class="ln" x1="268" y1="928" x2="363" y2="1013"/>
<line class="ln" x1="316" y1="918" x2="363" y2="1013"/>
<line class="ln" x1="303" y1="1034" x2="363" y2="1013"/>
<line class="ln" x1="259" y1="1047" x2="320.4" y2="1058.7"/>
<line class="ln" x1="405.6" y1="1058.7" x2="422" y2="1118"/>
<line class="ln" x1="382" y1="1020" x2="458" y2="1020"/>
<line class="ln" x1="377" y1="1040" x2="377" y2="1097"/>
<line class="ln" x1="340" y1="1094" x2="377" y2="1094"/>
<line class="ln" x1="363" y1="1107" x2="388" y2="1107"/>
<rect class="b" x="347" y="930" width="34" height="95" rx="4"/>
<rect class="b" x="352" y="1020" width="24" height="38" rx="3"/>
<path class="ln" d="M356,1025 V1055 M372,1025 V1055"/>
<circle class="b" cx="363" cy="950" r="15"/>
<g fill="#1a1a1a"><circle cx="358" cy="945" r="1.5"/><circle cx="366" cy="943" r="1.5"/><circle cx="360" cy="953" r="1.5"/><circle cx="369" cy="952" r="1.5"/></g>
<circle cx="363" cy="985" r="10" fill="#f1f0e4" stroke="#222" stroke-width="1.8"/>
<circle class="ln" cx="363" cy="985" r="5"/>
<circle class="b" cx="363" cy="1012" r="13"/>
<path class="b" d="M356,942 L397,1006 Q405,1015 412,1005 Q418,995 410,988 L370,935 Z"/>
<path class="ln" d="M365,948 L402,1000 M372,944 L407,993"/>
</g>
<use href="#wr" transform="matrix(-1,0,0,1,1071,0)"/>

<g>
<text class="n" transform="translate(222,950) rotate(-68)" x="0" y="4" text-anchor="middle">137°</text>
<text class="n" transform="translate(512,957) rotate(68)" x="0" y="4" text-anchor="middle">137°</text>
<text class="n" transform="translate(305,954) rotate(42)" x="0" y="-2" text-anchor="middle">R800</text>
<text class="n" transform="translate(330,938) rotate(63)" x="0" y="-2" text-anchor="middle">R260.5</text>
<text class="n" transform="translate(408,928) rotate(60)" x="0" y="4" text-anchor="middle">142°</text>
<text class="n" transform="translate(327,1020) rotate(-20)" x="0" y="0" text-anchor="middle">R400</text>
<text class="n" transform="translate(290,1045) rotate(12)" x="0" y="0" text-anchor="middle">R400</text>
<text class="n" x="431" y="1017" text-anchor="middle">(156)</text>
<text class="n" x="351" y="1091" text-anchor="middle">(75)</text>
<text class="n" x="377" y="1104" text-anchor="middle">160</text>
<text class="n" transform="translate(422,1088) rotate(72)" x="0" y="-2" text-anchor="middle">R400</text>
<text class="n" transform="translate(430,1139) rotate(-10)" x="0" y="0" text-anchor="middle">59.4°</text>
<text class="c" x="362" y="1177" text-anchor="middle">左腕系動作範囲図</text>
</g>
<g>
<text class="n" transform="translate(559,957) rotate(-68)" x="0" y="4" text-anchor="middle">137°</text>
<text class="n" transform="translate(849,950) rotate(68)" x="0" y="4" text-anchor="middle">137°</text>
<text class="n" transform="translate(766,954) rotate(-42)" x="0" y="-2" text-anchor="middle">R800</text>
<text class="n" transform="translate(741,938) rotate(-63)" x="0" y="-2" text-anchor="middle">R260.5</text>
<text class="n" transform="translate(663,928) rotate(-60)" x="0" y="4" text-anchor="middle">142°</text>
<text class="n" transform="translate(744,1020) rotate(20)" x="0" y="0" text-anchor="middle">R400</text>
<text class="n" transform="translate(781,1045) rotate(-12)" x="0" y="0" text-anchor="middle">R400</text>
<text class="n" x="640" y="1017" text-anchor="middle">(156)</text>
<text class="n" x="720" y="1091" text-anchor="middle">(75)</text>
<text class="n" x="694" y="1104" text-anchor="middle">160</text>
<text class="n" transform="translate(649,1088) rotate(-72)" x="0" y="-2" text-anchor="middle">R400</text>
<text class="n" transform="translate(641,1139) rotate(10)" x="0" y="0" text-anchor="middle">59.4°</text>
<text class="c" x="709" y="1177" text-anchor="middle">右腕系動作範囲図</text>
</g>
</svg>
</body></html>
